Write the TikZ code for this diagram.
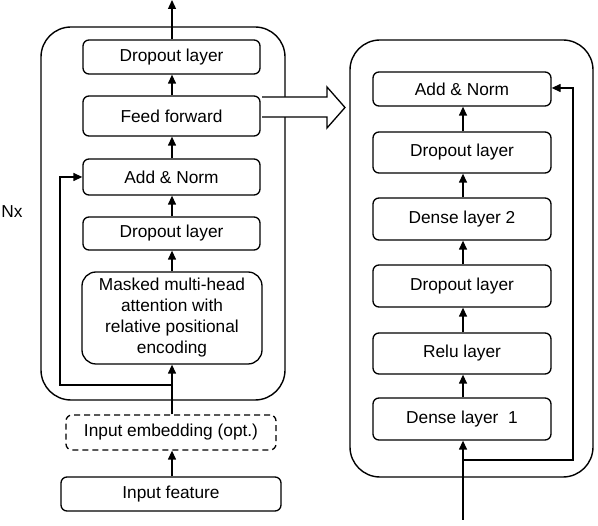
\documentclass[tikz,border=0pt]{standalone}
\usepackage{fontspec}
\setmainfont{Liberation Sans}
\usetikzlibrary{arrows.meta}
\begin{document}
\begin{tikzpicture}[x=1pt,y=-1pt,
  every node/.style={font=\fontsize{17.3}{21}\selectfont},
  blk/.style={draw,line width=1.3pt,rounded corners=6pt,inner sep=0pt,align=center},
  outer/.style={draw,line width=1.4pt,rounded corners=30pt,inner sep=0pt},
  arr/.style={line width=1.3pt,-{Triangle[length=9pt,width=8pt]}},
  ln/.style={line width=1.3pt}]
\useasboundingbox (0,0) rectangle (598,526);
% outer boxes
\node[outer,minimum width=244pt,minimum height=373pt] (lo) at (163,213.5) {};
\node[outer,minimum width=243pt,minimum height=437pt] (ro) at (471.5,258.5) {};
% left blocks
\node[blk,minimum width=177pt,minimum height=34pt] (d1) at (171.5,57) {Dropout layer};
\node[blk,minimum width=177pt,minimum height=40pt] (ff) at (171.5,116) {Feed forward};
\node[blk,minimum width=177pt,minimum height=36pt] (an) at (171.5,177) {Add \& Norm};
\node[blk,minimum width=177pt,minimum height=33pt] (d2) at (171.5,233.5) {Dropout layer};
\node[blk,minimum width=180pt,minimum height=92pt,rounded corners=14pt] (mm) at (172,318) {Masked multi-head\\attention with\\relative positional\\encoding};
\node[blk,dashed,dash pattern=on 6pt off 4pt,minimum width=210pt,minimum height=35pt] (ie) at (171,432.5) {Input embedding (opt.)};
\node[blk,minimum width=220pt,minimum height=34pt] (if) at (171,494) {Input feature};
\node (nx) at (12,212) {Nx};
% right blocks
\node[blk,minimum width=178pt,minimum height=34pt] (ran) at (462,89) {Add \& Norm};
\node[blk,minimum width=178pt,minimum height=41pt] (rd1) at (462,152.5) {Dropout layer};
\node[blk,minimum width=178pt,minimum height=42pt] (rd2) at (462,219) {Dense layer 2};
\node[blk,minimum width=178pt,minimum height=42pt] (rd3) at (462,286) {Dropout layer};
\node[blk,minimum width=178pt,minimum height=41pt] (rr) at (462,353.5) {Relu layer};
\node[blk,minimum width=178pt,minimum height=42pt] (rd4) at (462,419) {Dense layer\ \ 1};
% coordinates
\coordinate (top) at (172,0);
\coordinate (lres) at (172,385);
\coordinate (rin) at (463,520);
\coordinate (rres) at (463,460);
% left arrows
\draw[arr] (d1.north -| top) -- (top);
\draw[arr] (ff.north -| top) -- (d1.south -| top);
\draw[arr] (an.north -| top) -- (ff.south -| top);
\draw[arr] (d2.north -| top) -- (an.south -| top);
\draw[arr] (mm.north -| top) -- (d2.south -| top);
\draw[arr] (ie.north -| top) -- (mm.south -| top);
\draw[arr] (if.north -| top) -- (ie.south -| top);
\draw[arr] (lres) -- (60,385) -- (60,177) -- (an.west);
% right arrows
\draw[arr] (rin) -- (rd4.south -| rin);
\draw[arr] (rd4.north -| rin) -- (rr.south -| rin);
\draw[arr] (rr.north -| rin) -- (rd3.south -| rin);
\draw[arr] (rd3.north -| rin) -- (rd2.south -| rin);
\draw[arr] (rd2.north -| rin) -- (rd1.south -| rin);
\draw[arr] (rd1.north -| rin) -- (ran.south -| rin);
\draw[arr] (rres) -- (573,460) -- (573,88) -- (ran.east |- 0,88);
% hollow arrow
\draw[ln,fill=white,line join=miter] (262,97) -- (327,97) -- (327,87) -- (345,107.5) -- (327,128) -- (327,117) -- (262,117);
\end{tikzpicture}
\end{document}
